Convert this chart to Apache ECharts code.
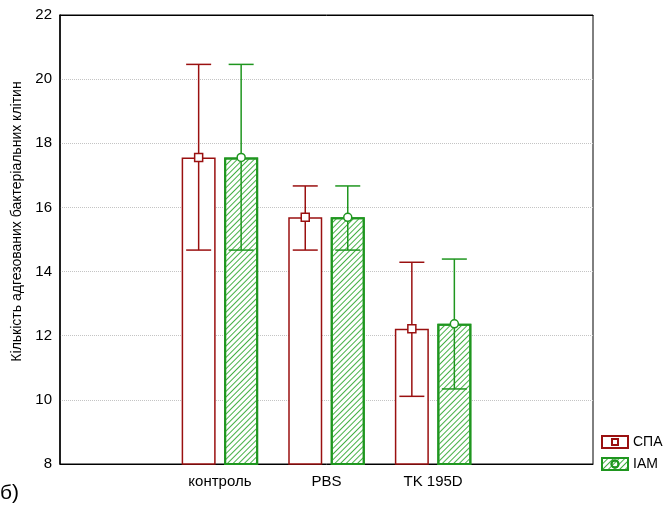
<!DOCTYPE html>
<html>
<head>
<meta charset="utf-8">
<script src="https://cdn.jsdelivr.net/npm/echarts@6/dist/echarts.min.js"></script>
<style>
  html, body { margin: 0; padding: 0; background: #fff; }
  #main { width: 666px; height: 511px; }
</style>
</head>
<body>
<div id="main"></div>
<script>
var categories = ['', 'контроль', 'PBS', 'TK 195D', ''];
var spaMean = [null, 17.56, 15.69, 12.22, null];
var spaLow = [null, 14.67, 14.67, 10.11, null];
var spaHigh = [null, 20.46, 16.67, 14.29, null];
var iamMean = [null, 17.56, 15.69, 12.37, null];
var iamLow = [null, 14.67, 14.67, 10.34, null];
var iamHigh = [null, 20.46, 16.67, 14.39, null];

var RED = '#9a1010';
var GREEN = '#1f961f';
var BAR_W = 34;
var GAP = 8.5;
var OFFSET = (BAR_W + GAP) / 2;
var CAP = 25;

function errData(lo, hi, mean) {
  var out = [];
  for (var i = 0; i < categories.length; i++) {
    if (mean[i] != null) out.push([i, lo[i], hi[i], mean[i]]);
  }
  return out;
}

function errRender(sign, color, symbol) {
  return function (params, api) {
    var x = api.coord([api.value(0), api.value(1)])[0] + sign * OFFSET;
    var yLo = api.coord([api.value(0), api.value(1)])[1];
    var yHi = api.coord([api.value(0), api.value(2)])[1];
    var yM = api.coord([api.value(0), api.value(3)])[1];
    var ls = { stroke: color, lineWidth: 1.5, fill: null };
    var marker = symbol === 'rect'
      ? { type: 'rect', shape: { x: x - 4, y: yM - 4, width: 8, height: 8 }, style: { fill: '#fff', stroke: color, lineWidth: 1.5 } }
      : { type: 'circle', shape: { cx: x, cy: yM, r: 4 }, style: { fill: '#fff', stroke: color, lineWidth: 1.5 } };
    return {
      type: 'group',
      children: [
        { type: 'line', shape: { x1: x, y1: yLo, x2: x, y2: yHi }, style: ls },
        { type: 'line', shape: { x1: x - CAP / 2, y1: yLo, x2: x + CAP / 2, y2: yLo }, style: ls },
        { type: 'line', shape: { x1: x - CAP / 2, y1: yHi, x2: x + CAP / 2, y2: yHi }, style: ls },
        marker
      ]
    };
  };
}

var chartDom = document.getElementById('main');
var myChart = echarts.init(chartDom);
var option;

option = {
  animation: false,
  textStyle: { fontFamily: 'Liberation Sans, Arial, sans-serif' },
  title: {
    text: 'б)',
    left: 0,
    top: 483,
    padding: 0,
    textStyle: { fontSize: 21, fontWeight: 'normal', color: '#000' }
  },
  grid: {
    left: 60, right: 73, top: 15, bottom: 47,
    show: true, borderColor: '#000', borderWidth: 1
  },
  legend: {
    orient: 'vertical',
    left: 601,
    top: 435,
    padding: 0,
    itemWidth: 26,
    itemHeight: 12,
    itemGap: 8,
    textStyle: { fontSize: 14, color: '#000' },
    data: [
      { name: 'СПА', icon: 'path://M0,0L26,0L26,12L0,12Z M10,3L16,3L16,9L10,9Z' },
      { name: 'IAM', icon: 'path://M0,0L26,0L26,12L0,12Z M16.5,6A3.5,3.5,0,1,1,9.5,6A3.5,3.5,0,1,1,16.5,6Z' }
    ]
  },
  xAxis: [
    {
      type: 'category',
      data: categories,
      axisLine: { lineStyle: { color: '#000', width: 1 } },
      axisTick: { alignWithLabel: true, inside: true, length: 4, lineStyle: { color: '#000' } },
      axisLabel: { color: '#000', fontSize: 15, margin: 10 }
    },
    {
      type: 'category',
      position: 'top',
      data: categories,
      axisLine: { lineStyle: { color: '#000' } },
      axisTick: { alignWithLabel: true, inside: true, length: 4, lineStyle: { color: '#000' } },
      axisLabel: { show: false }
    }
  ],
  yAxis: {
    type: 'value',
    min: 8,
    max: 22,
    interval: 2,
    name: 'Кількість адгезованих бактеріальних клітин',
    nameLocation: 'middle',
    nameGap: 32,
    nameTextStyle: { fontSize: 14, color: '#000', padding: [0, 0, 0, 36] },
    axisLine: { show: true, lineStyle: { color: '#000', width: 1.5 } },
    axisTick: { show: false },
    axisLabel: { color: '#000', fontSize: 15, margin: 8 },
    splitLine: { lineStyle: { color: '#c4c4c4', type: 'dotted' } }
  },
  series: [
    {
      name: 'СПА',
      type: 'bar',
      barWidth: BAR_W,
      barGap: (GAP / BAR_W * 100) + '%',
      itemStyle: { color: '#fff', borderColor: RED, borderWidth: 1.5 },
      data: spaMean
    },
    {
      name: 'IAM',
      type: 'bar',
      barWidth: BAR_W,
      itemStyle: {
        color: '#ffffff',
        borderColor: GREEN,
        borderWidth: 2,
        decal: {
          symbol: 'rect',
          color: '#45b045',
          dashArrayX: [1, 0],
          dashArrayY: [1, 2.6],
          rotation: -Math.PI / 4
        }
      },
      data: iamMean
    },
    {
      name: 'СПА',
      type: 'custom',
      renderItem: errRender(-1, RED, 'rect'),
      data: errData(spaLow, spaHigh, spaMean),
      z: 5
    },
    {
      name: 'IAM',
      type: 'custom',
      renderItem: errRender(1, GREEN, 'circle'),
      data: errData(iamLow, iamHigh, iamMean),
      z: 5
    }
  ]
};

option && myChart.setOption(option);
</script>
</body>
</html>
